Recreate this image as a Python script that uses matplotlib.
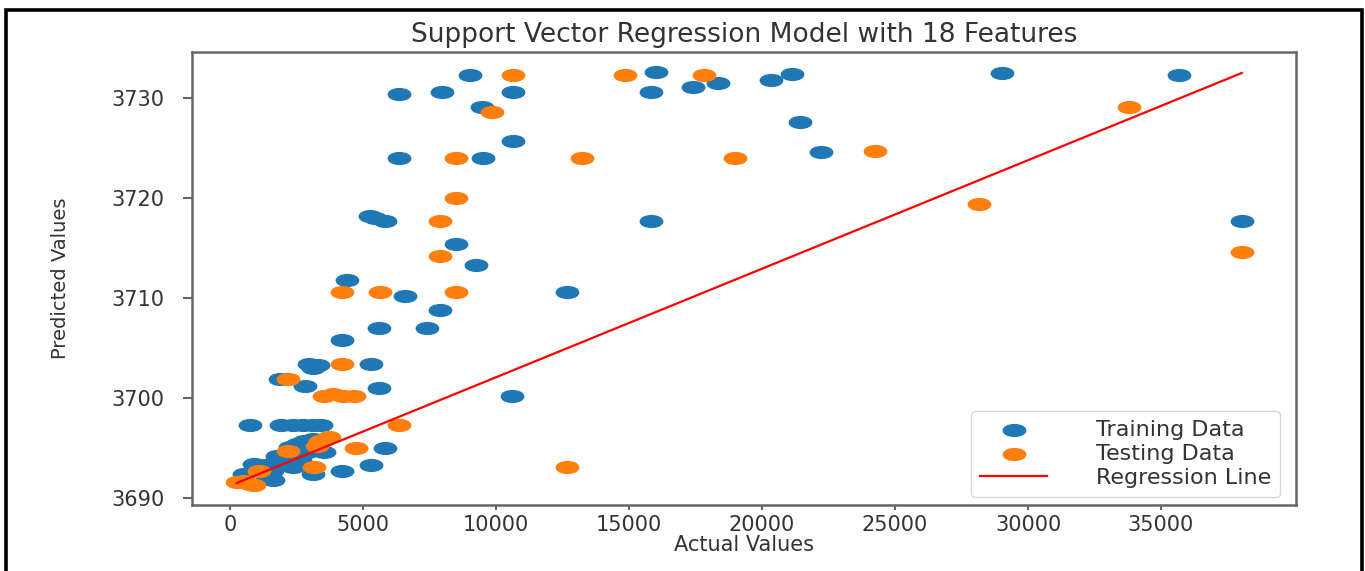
import matplotlib
matplotlib.use('Agg')
import matplotlib.pyplot as plt
from matplotlib.markers import MarkerStyle
from matplotlib.transforms import Affine2D
from matplotlib.patches import Rectangle

# 训练集: 实际值 / 预测值
train_actual = [9000, 10650, 6330, 7980, 9460, 10650, 6330, 9490, 5265, 5450,
                5830, 8480, 9240, 4390, 6580, 7900, 5580, 7400, 4220, 2950,
                3100, 3300, 5300, 1880, 2820, 5580, 10590, 750, 1900, 2350,
                2750, 3100, 3400, 3510, 3130, 4220, 5300, 5830, 12660, 16020,
                15830, 17400, 18360, 20330, 21120, 21430, 22200, 15830, 29010, 35690,
                38040, 500, 880, 1380, 1570, 1750, 2070, 2380, 2630, 2510,
                2760, 2880, 3130, 3260, 1100, 1300, 1600, 2000, 2250]
train_pred = [3732.3, 3730.55, 3730.35, 3730.55, 3729.1, 3725.7, 3724.0, 3724.0, 3718.15, 3718.0,
              3717.7, 3715.4, 3713.3, 3711.8, 3710.2, 3708.8, 3706.95, 3706.95, 3705.75, 3703.4,
              3703.0, 3703.3, 3703.4, 3701.9, 3701.2, 3701.0, 3700.2, 3697.3, 3697.3, 3697.3,
              3697.3, 3697.3, 3697.3, 3694.55, 3692.4, 3692.65, 3693.3, 3694.95, 3710.6, 3732.55,
              3730.55, 3731.1, 3731.5, 3731.8, 3732.4, 3727.6, 3724.6, 3717.7, 3732.5, 3732.3,
              3717.7, 3692.4, 3693.4, 3692.1, 3692.7, 3694.2, 3693.4, 3693.05, 3693.9, 3695.4,
              3695.7, 3694.55, 3695.9, 3695.2, 3692.9, 3693.3, 3691.8, 3694.0, 3695.1]

# 测试集
test_actual = [10650, 9840, 8480, 8480, 7900, 7900, 4220, 5640, 8490, 4220,
               2190, 3510, 3880, 4260, 4640, 6330, 250, 500, 750, 900,
               1065, 2190, 3380, 3700, 3260, 3150, 4740, 12660, 14850, 17800,
               13220, 18990, 24250, 28170, 33780, 38040]
test_pred = [3732.3, 3728.6, 3724.0, 3720.0, 3717.7, 3714.2, 3710.6, 3710.6, 3710.6, 3703.4,
             3701.9, 3700.2, 3700.4, 3700.2, 3700.2, 3697.3, 3691.6, 3691.7, 3691.4, 3691.3,
             3692.7, 3694.7, 3695.7, 3696.05, 3695.2, 3693.1, 3694.95, 3693.1, 3732.3, 3732.3,
             3724.0, 3724.0, 3724.7, 3719.4, 3729.1, 3714.55]

# 回归线端点
line_actual = [250, 38040]
line_pred = [3691.5, 3732.5]

x_ticks = [0, 5000, 10000, 15000, 20000, 25000, 30000, 35000]
y_ticks = [3690, 3700, 3710, 3720, 3730]

txt = '#333333'
spine = '#666666'

fig = plt.figure(figsize=(13.65, 5.71), dpi=100)
ax = fig.add_axes([0.1404, 0.1156, 0.8091, 0.7934])

# 图片是横向拉伸的, 所以点画成椭圆
dot = MarkerStyle('o', transform=Affine2D().scale(1.9, 1.0))
ax.scatter(train_actual, train_pred, s=72, marker=dot, color='#1f77b4', label='Training Data')
ax.scatter(test_actual, test_pred, s=72, marker=dot, color='#ff7f0e', label='Testing Data')
ax.plot(line_actual, line_pred, color='red', lw=1.6, label='Regression Line')

ax.set_xlim(-1450, 40080)
ax.set_ylim(3689.3, 3734.6)
ax.set_xticks(x_ticks)
ax.set_yticks(y_ticks)

ax.set_title('Support Vector Regression Model with 18 Features', fontsize=19, color=txt, pad=7)
ax.set_xlabel('Actual Values', fontsize=15, color=txt, labelpad=0)
ax.set_ylabel('Predicted Values', fontsize=14, color=txt)
ax.yaxis.set_label_coords(-0.11, 0.5)

ax.tick_params(axis='x', labelsize=15, labelcolor=txt, color=spine, length=3.5, width=1.5, pad=3.5)
ax.tick_params(axis='y', labelsize=15, labelcolor=txt, color=spine, length=6.5, width=1.5, pad=13)
for s in ax.spines.values():
    s.set_color(spine)
    s.set_linewidth(1.8)

ax.legend(loc='lower right', bbox_to_anchor=(0.9855, 0.0177), borderaxespad=0,
          fontsize=16, handlelength=3.0, handletextpad=2.2, labelspacing=0.18,
          labelcolor=txt)

# 外面的黑框
fig.patches.append(Rectangle((6 / 1365, -0.05), 1356 / 1365, 1.05 - 10 / 571,
                             transform=fig.transFigure, fill=False,
                             edgecolor='black', lw=2.6, clip_on=False))

fig.savefig('out.png', dpi=100)
